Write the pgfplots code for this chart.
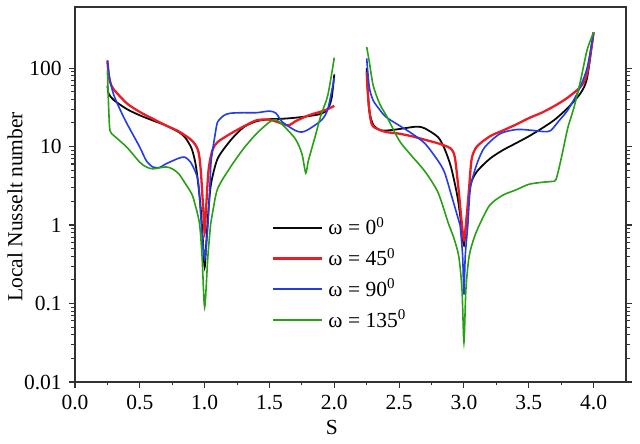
\documentclass[border=0pt]{standalone}
\usepackage{fontspec}
\setmainfont{Liberation Serif}
\usepackage{pgfplots}
\pgfplotsset{compat=1.18}
\definecolor{cblack}{RGB}{10,10,10}
\definecolor{cred}{RGB}{236,28,36}
\definecolor{cblue}{RGB}{35,60,230}
\definecolor{cgreen}{RGB}{40,160,20}
\definecolor{axgray}{RGB}{50,50,50}
\begin{document}
\fontsize{21.5bp}{26bp}\selectfont
\begin{tikzpicture}
\useasboundingbox (-75bp,-62bp) rectangle (565bp,382bp);
\begin{axis}[
  scale only axis,
  width=551bp, height=375bp,
  xmin=0, xmax=4.25,
  ymode=log, ymin=0.01, ymax=600,
  /pgf/number format/assume math mode=true,
  xtick={0,0.5,1,1.5,2,2.5,3,3.5,4},
  minor xtick={0.25,0.75,1.25,1.75,2.25,2.75,3.25,3.75},
  xticklabels={0.0,0.5,1.0,1.5,2.0,2.5,3.0,3.5,4.0},
  ytick={0.01,0.1,1,10,100},
  yticklabels={0.01,0.1,1,10,100},
  tick align=outside,
  xtick pos=bottom,
  ytick pos=both,
  major tick length=6bp,
  minor tick length=3.5bp,
  every tick/.style={axgray, line width=1.1bp},
  axis line style={axgray, line width=1.3bp},
  tick label style={font=\fontsize{21.5bp}{26bp}\selectfont},
  label style={font=\fontsize{21.5bp}{26bp}\selectfont},
  xlabel={S},
  ylabel={Local Nusselt number},
  xlabel style={at={(axis description cs:0.466,0)}, anchor=center, yshift=-45bp},
  ylabel style={at={(axis description cs:-0.1089,0.467)}, anchor=center},
  legend style={draw=none, fill=none, at={(0.3575,0.445)}, anchor=north west,
    inner sep=0pt, row sep=6bp, column sep=3bp,
    font=\fontsize{21.5bp}{26bp}\selectfont,
    nodes={inner sep=2bp}},
  legend cell align=left,
  legend image code/.code={\draw[#1] (0bp,0bp) -- (49bp,0bp);},
  every axis plot/.append style={smooth, tension=0.45},
]
% black
\addplot[cblack, line width=1.8bp] coordinates {
(0.25,60) (0.26,47) (0.3,39) (0.4,30) (0.5,25) (0.6,21.5) (0.7,18.6) (0.8,15.3) (0.85,13) (0.9,9.4) (0.93,6) (0.95,3.4) (0.97,1.6) (0.985,0.7) (1.0,0.29) (1.015,0.7) (1.03,1.6) (1.05,3.4) (1.1,7) (1.2,12) (1.3,17.6) (1.4,21) (1.5,22.3) (1.6,22.6) (1.7,23.3) (1.8,24.4) (1.9,26.2) (1.95,30) (1.98,42) (2.0,83)};
\addlegendentry{ω = 0\textsuperscript{0}}
% red
\addplot[cred, line width=2.3bp] coordinates {
(0.25,125) (0.26,80) (0.28,60) (0.3,53) (0.4,35.5) (0.5,27.6) (0.6,22.6) (0.7,18.6) (0.8,15.6) (0.9,12) (0.95,8.9) (0.97,5) (0.99,1.5) (1.0,0.8) (1.01,1.5) (1.03,5) (1.06,9) (1.1,11.4) (1.2,14.6) (1.3,18) (1.4,21.6) (1.5,22) (1.6,19.5) (1.65,18.6) (1.7,21) (1.8,24.9) (1.9,28) (1.95,30) (2.0,33)};
\addlegendentry{ω = 45\textsuperscript{0}}
% blue
\addplot[cblue, line width=1.6bp] coordinates {
(0.25,125) (0.27,70) (0.3,45) (0.35,29) (0.4,19.7) (0.5,9.8) (0.55,6.6) (0.6,5.5) (0.65,5.4) (0.7,6) (0.8,7.1) (0.85,7.3) (0.9,6) (0.95,3.6) (0.975,1.0) (1.0,0.37) (1.025,1.0) (1.04,3) (1.05,6.5) (1.08,14) (1.1,20.5) (1.15,25) (1.2,26.6) (1.3,27) (1.4,27) (1.5,28.3) (1.55,26.6) (1.6,20.5) (1.7,16) (1.75,15.3) (1.8,16.5) (1.9,21.6) (1.95,30) (2.0,75)};
\addlegendentry{ω = 90\textsuperscript{0}}
% green
\addplot[cgreen, line width=1.6bp] coordinates {
(0.25,93) (0.26,30) (0.27,16) (0.3,13.8) (0.4,9.8) (0.5,6.3) (0.55,5.5) (0.6,5.2) (0.7,5.5) (0.75,5.2) (0.8,4.5) (0.85,3.4) (0.9,2.5) (0.92,2.0) (0.96,1.05) (0.98,0.4) (1.0,0.09) (1.025,0.4) (1.047,1.05) (1.06,1.4) (1.1,2.9) (1.2,5.5) (1.3,9.4) (1.4,14.6) (1.5,20.5) (1.55,22) (1.6,19) (1.7,12.5) (1.75,8.1) (1.78,4.6) (1.8,6.6) (1.85,13) (1.9,26) (1.95,45) (2.0,136)};
\addlegendentry{ω = 135\textsuperscript{0}}
% right part
\addplot[cblack, line width=1.8bp, forget plot] coordinates {
(2.25,100) (2.26,45) (2.27,28) (2.3,19) (2.35,16.3) (2.4,16) (2.5,16.7) (2.6,17.7) (2.65,17.9) (2.7,17) (2.8,13.2) (2.85,9.4) (2.9,5.5) (2.95,2.3) (2.98,1.0) (3.0,0.55) (3.02,1.2) (3.05,3.2) (3.1,4.8) (3.2,7.0) (3.3,9.0) (3.4,11) (3.5,13.5) (3.6,17) (3.7,22) (3.8,31) (3.9,48) (3.95,75) (4.0,285)};
\addplot[cred, line width=2.3bp, forget plot] coordinates {
(2.25,90) (2.26,45) (2.28,22) (2.3,18) (2.35,16.3) (2.4,15.3) (2.5,14.6) (2.6,13.5) (2.7,12.2) (2.8,11) (2.85,10.3) (2.9,9.4) (2.93,7.3) (2.96,2.7) (2.98,1.2) (3.0,0.65) (3.02,1.2) (3.04,3) (3.06,7) (3.1,10) (3.2,13.5) (3.3,16) (3.4,19) (3.5,23) (3.6,27) (3.7,33) (3.8,42) (3.9,58) (3.95,85) (4.0,285)};
\addplot[cblue, line width=1.6bp, forget plot] coordinates {
(2.25,133) (2.27,57) (2.3,38.7) (2.35,29.5) (2.4,23.7) (2.5,18.6) (2.6,14.6) (2.7,10.9) (2.8,6.6) (2.85,4.7) (2.9,2.5) (2.95,1.3) (2.97,1.0) (2.99,0.4) (3.0,0.13) (3.01,0.4) (3.03,1.0) (3.05,3.0) (3.1,6) (3.16,9.8) (3.28,14.6) (3.41,16.5) (3.54,16) (3.62,15.5) (3.67,16) (3.73,21) (3.8,29) (3.88,50) (3.95,100) (4.0,285)};
\addplot[cgreen, line width=1.6bp, forget plot] coordinates {
(2.25,185) (2.27,120) (2.3,60) (2.35,35) (2.4,25) (2.5,12) (2.6,7.5) (2.7,4.8) (2.8,2.6) (2.88,1.05) (2.92,0.7) (2.96,0.4) (2.985,0.15) (3.0,0.032) (3.015,0.15) (3.04,0.4) (3.08,0.7) (3.125,1.05) (3.2,1.8) (3.3,2.4) (3.4,2.8) (3.5,3.3) (3.6,3.5) (3.68,3.6) (3.71,3.8) (3.75,7) (3.8,17) (3.85,32) (3.9,70) (3.95,170) (4.0,285)};
\end{axis}
\end{tikzpicture}
\end{document}
